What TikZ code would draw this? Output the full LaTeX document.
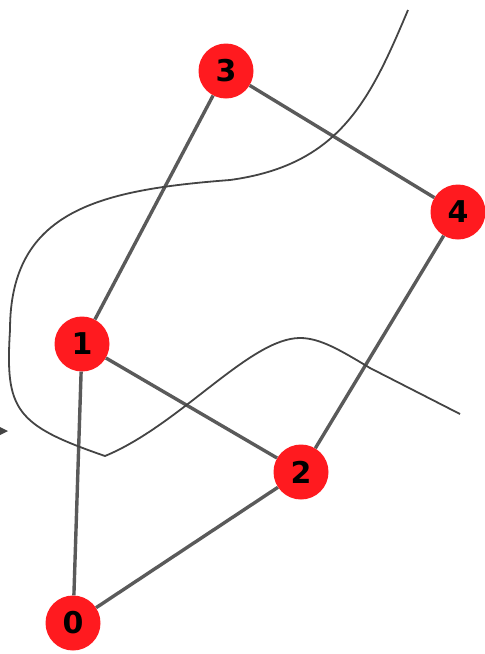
\documentclass[tikz,border=0pt]{standalone}
\usepackage{fontspec}
\setsansfont{DejaVu Sans}
\definecolor{fignode}{HTML}{FF1A1F}
\definecolor{figedge}{HTML}{5A5A5A}
\definecolor{figcut}{HTML}{444444}
\tikzset{
  vertex/.style={circle, fill=fignode, draw=none, minimum size=55pt, inner sep=0pt,
    font=\sffamily\bfseries\fontsize{30}{30}\selectfont, text=black},
  graphedge/.style={draw=figedge, line width=3.4pt},
  cutline/.style={draw=figcut, line width=1.8pt}
}
\begin{document}
\begin{tikzpicture}[x=1pt,y=-1pt]
  \useasboundingbox (0,0) rectangle (485,654);
  % vertices
  \node[vertex] (n0) at (73,623) {0};
  \node[vertex] (n1) at (82,344) {1};
  \node[vertex] (n2) at (301,472) {2};
  \node[vertex] (n3) at (226,71) {3};
  \node[vertex] (n4) at (458,212) {4};
  % edges
  \foreach \a/\b in {n0/n1,n0/n2,n1/n2,n1/n3,n3/n4,n2/n4} {
    \draw[graphedge] (\a) -- (\b);
  }
  % the cut curve
  \draw[cutline] (408,10) .. controls (370,100) and (340,165) .. (230,180)
    .. controls (100,190) and (10,210) .. (10,330)
    .. controls (5,410) and (15,425) .. (105,456)
    .. controls (180,425) and (250,338) .. (300,338)
    .. controls (320,338) and (340,350) .. (370,368) -- (460,414);
  % stray arrow tip at the left edge
  \fill[figcut] (0,427) -- (8,431) -- (0,435) -- cycle;
\end{tikzpicture}
\end{document}
